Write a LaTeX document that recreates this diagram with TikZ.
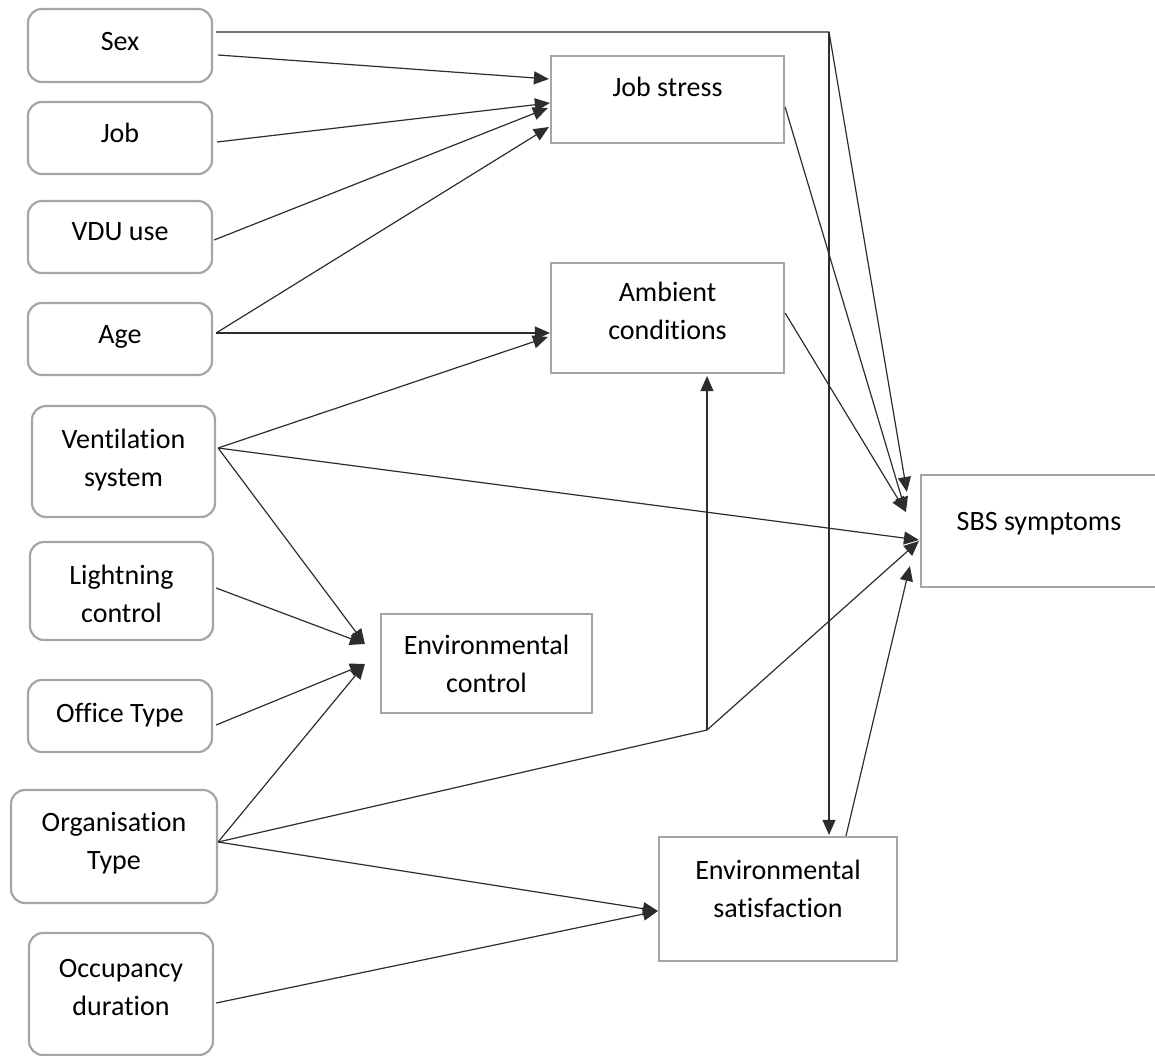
\documentclass[tikz,border=0pt]{standalone}
\usepackage{fontspec}
\setmainfont{Carlito}[Ligatures={NoCommon}]
\usetikzlibrary{arrows.meta,calc}
\definecolor{boxgray}{RGB}{165,165,165}
\definecolor{lineblack}{RGB}{45,45,45}
\begin{document}
\begin{tikzpicture}[x=1pt,y=-1pt,
  every node/.style={font=\fontsize{28}{38}\selectfont},
  rbox/.style={draw=boxgray, line width=2.2pt, rounded corners=14pt, minimum width=184pt, inner sep=0pt},
  sbox/.style={draw=boxgray, line width=2.2pt, inner sep=0pt},
  lblone/.style={inner sep=0pt, text height=18pt, text depth=0pt, text=black},
  lbltwo/.style={align=center, inner sep=0pt, text=black},
  conn/.style={draw=lineblack, line width=1.2pt},
  arr/.style={conn, -{Triangle[length=15pt,width=13pt]}},
]
\useasboundingbox (0,0) rectangle (1155,1056);

% left boxes
\node[rbox, minimum height=73pt, label={[lblone,yshift=3.5pt]center:Sex}] (sex) at (120,45.5) {};
\node[rbox, minimum height=72pt, label={[lblone,yshift=4.5pt]center:Job}] (job) at (120,138) {};
\node[rbox, minimum height=72pt, label={[lblone,yshift=5pt]center:VDU use}] (vdu) at (120,237) {};
\node[rbox, minimum height=72pt, label={[lblone,yshift=5pt]center:Age}] (age) at (120,339) {};
\node[rbox, minimum width=183pt, minimum height=111pt, label={[lbltwo,yshift=1.5pt]center:{Ventilation\\system}}] (vent) at (123.5,461.5) {};
\node[rbox, minimum width=183pt, minimum height=98pt, label={[lbltwo,yshift=-2.5pt]center:{Lightning\\control}}] (light) at (121.5,591) {};
\node[rbox, minimum height=72pt, label={[lblone,yshift=3pt]center:Office Type}] (office) at (120,716) {};
\node[rbox, minimum width=206pt, minimum height=113pt, label={[lbltwo,yshift=3pt]center:{Organisation\\Type}}] (org) at (114,846.5) {};
\node[rbox, minimum height=122pt, label={[lbltwo,yshift=6.5pt]center:{Occupancy\\duration}}] (occ) at (121,994) {};

% right boxes
\node[sbox, minimum width=233pt, minimum height=87pt, label={[lblone,yshift=11.5pt]center:Job stress}] (js) at (667.5,99.5) {};
\node[sbox, minimum width=233pt, minimum height=110pt, label={[lbltwo,yshift=7.5pt]center:{Ambient\\conditions}}] (amb) at (667.5,318) {};
\node[sbox, minimum width=211pt, minimum height=99pt, label={[lbltwo,yshift=0pt]center:{Environmental\\control}}] (ec) at (486.5,663.5) {};
\node[sbox, minimum width=236pt, minimum height=112pt, label={[lblone,yshift=10pt]center:SBS symptoms}] (sbs) at (1039,531) {};
\node[sbox, minimum width=238pt, minimum height=124pt, label={[lbltwo,yshift=10pt]center:{Environmental\\satisfaction}}] (es) at (778,899) {};

% junctions
\coordinate (topc) at (829,32);
\coordinate (bend) at (707,730);

% Sex
\draw[arr] ($(sex.east)+(3,-13.5)$) -- (topc) -- ($(sbs.west)+(-13,-39)$);
\draw[arr] (topc) -- ($(es.north)+(51,-1)$);
\draw[arr] ($(sex.east)+(5,9.5)$) -- ($(js.west)+(-1,-20.5)$);
% Job, VDU, Age -> Job stress
\draw[arr] ($(job.east)+(4,4)$) -- ($(js.west)+(0,3.5)$);
\draw[arr] ($(vdu.east)+(1,3)$) -- ($(js.west)+(-2,8.5)$);
\draw[arr] ($(age.east)+(3,-6)$) -- ($(js.west)+(-1,27.5)$);
% Age, Ventilation -> Ambient
\draw[arr] ($(age.east)+(3,-6)$) -- ($(amb.west)+(0,15)$);
\draw[arr] ($(vent.east)+(2,-13.5)$) -- ($(amb.west)+(-2,19)$);
% Ventilation -> SBS, Env control
\draw[arr] ($(vent.east)+(2,-13.5)$) -- ($(sbs.west)+(-1,9)$);
\draw[arr] ($(vent.east)+(2,-13.5)$) -- ($(ec.west)+(-15,-19.5)$);
% Lightning, Office -> Env control
\draw[arr] ($(light.east)+(2,-3)$) -- ($(ec.west)+(-15,-19.5)$);
\draw[arr] ($(office.east)+(3,9)$) -- ($(ec.west)+(-15,0.5)$);
% Organisation
\draw[arr] ($(org.east)+(0,-4.5)$) -- ($(ec.west)+(-15,0.5)$);
\draw[arr] ($(org.east)+(0,-4.5)$) -- (bend) -- ($(sbs.west)+(-1,10)$);
\draw[arr] (bend) -- ($(amb.south)+(39.5,2)$);
\draw[arr] ($(org.east)+(0,-4.5)$) -- ($(es.west)+(0,12)$);
% Occupancy
\draw[arr] ($(occ.east)+(2,9)$) -- ($(es.west)+(0,12)$);
% mediators -> SBS
\draw[arr] ($(js.east)+(0,7.5)$) -- ($(sbs.west)+(-14,-19)$);
\draw[arr] ($(amb.east)+(0,-5)$) -- ($(sbs.west)+(-14,-19)$);
\draw[arr] ($(es.north)+(68,0)$) -- ($(sbs.west)+(-10,35)$);
\end{tikzpicture}
\end{document}
